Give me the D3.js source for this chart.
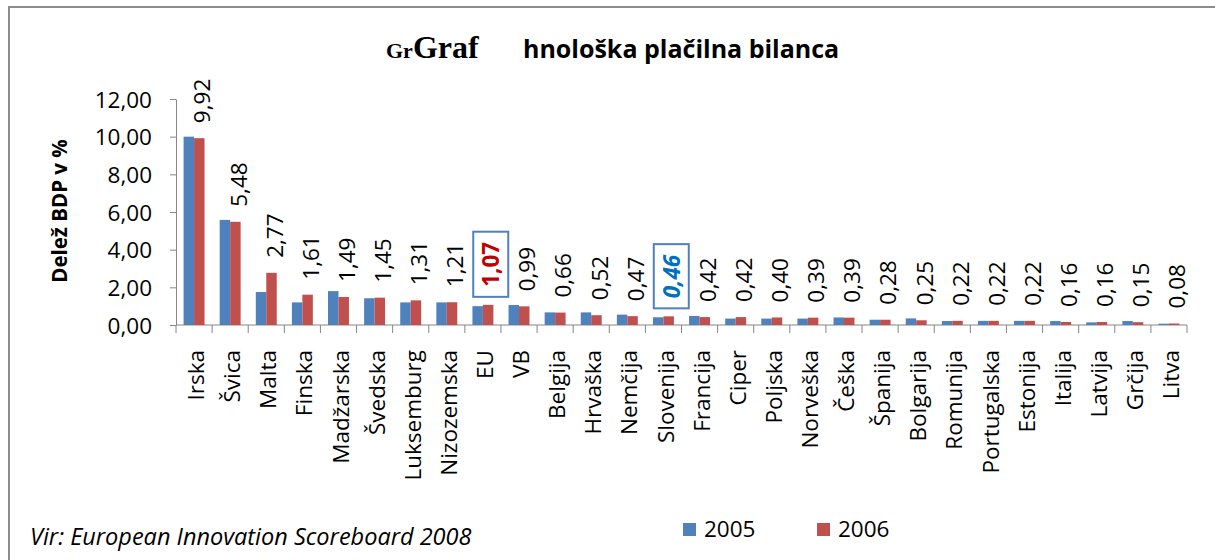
<!DOCTYPE html>
<html>
<head>
<meta charset="utf-8">
<script src="https://cdn.jsdelivr.net/npm/d3@7"></script>
<style>
	body { margin: 0; background: #fff; }
	text { font-family: "Open Sans", sans-serif; fill: #000; }
	.axis path, .axis line { stroke: #868686; }
	.axis text { font-size: 22.5px; fill: #000; }
</style>
</head>
<body>
<div id="chart"></div>
<script>

// Data (delež BDP v %).
const categories = ["Irska", "Švica", "Malta", "Finska", "Madžarska", "Švedska", "Luksemburg",
	"Nizozemska", "EU", "VB", "Belgija", "Hrvaška", "Nemčija", "Slovenija", "Francija", "Ciper",
	"Poljska", "Norveška", "Češka", "Španija", "Bolgarija", "Romunija", "Portugalska", "Estonija",
	"Italija", "Latvija", "Grčija", "Litva"];
const v2005 = [10.00, 5.58, 1.75, 1.20, 1.80, 1.42, 1.20, 1.20, 1.00, 1.06, 0.67, 0.67, 0.55, 0.41,
	0.48, 0.34, 0.34, 0.34, 0.40, 0.28, 0.35, 0.21, 0.22, 0.22, 0.21, 0.14, 0.21, 0.07];
const v2006 = [9.92, 5.48, 2.77, 1.61, 1.49, 1.45, 1.31, 1.21, 1.07, 0.99, 0.66, 0.52, 0.47, 0.46,
	0.42, 0.42, 0.40, 0.39, 0.39, 0.28, 0.25, 0.22, 0.22, 0.22, 0.16, 0.16, 0.15, 0.08];
const years = ["2005", "2006"];
const yTicks = [0, 2, 4, 6, 8, 10, 12];
const boxed = ["EU", "Slovenija"];

const colors = { "2005": "#4f81bd", "2006": "#c0504d" };

// Dimensions.
const W = 1215, H = 560;
let margin = { top: 99, right: 28, bottom: 235, left: 176 },
	width = W - margin.left - margin.right,
	height = H - margin.top - margin.bottom;

let svg = d3.select("#chart").append("svg")
	.attr("width", W)
	.attr("height", H);

// chart area border (only top & left visible in crop)
svg.append("rect")
	.attr("x", 9).attr("y", 7)
	.attr("width", W + 20).attr("height", H + 20)
	.attr("fill", "none")
	.attr("stroke", "#8c8c8c")
	.attr("stroke-width", 2);

let g = svg.append("g")
	.attr("transform", "translate(" + margin.left + "," + margin.top + ")");

// Scales
let x = d3.scaleBand()
	.domain(categories)
	.range([0, width])
	.paddingInner(0.42)
	.paddingOuter(0.21);
let x1 = d3.scaleBand()
	.domain(years)
	.range([0, x.bandwidth()]);
let y = d3.scaleLinear()
	.domain([0, 12])
	.range([height, 0]);

const fmt = d3.formatLocale({ decimal: ",", thousands: ".", grouping: [3], currency: ["", ""] }).format(".2f");

// y-axis
let yAxis = d3.axisLeft(y)
	.tickValues(yTicks)
	.tickFormat(fmt)
	.tickSize(6)
	.tickPadding(18)
	.tickSizeOuter(0);
g.append("g")
	.attr("class", "y axis")
	.call(yAxis)
	.call(a => a.selectAll("text").attr("dy", "0.36em"));

// x-axis: line plus ticks between categories
let xg = g.append("g").attr("class", "x axis")
	.attr("transform", "translate(0," + height + ")");
xg.append("line")
	.attr("x1", 0).attr("x2", width)
	.attr("stroke", "#868686");
xg.selectAll("line.tk")
	.data(d3.range(categories.length + 1))
	.join("line")
	.attr("class", "tk")
	.attr("x1", i => i * width / categories.length)
	.attr("x2", i => i * width / categories.length)
	.attr("y1", 0).attr("y2", 8)
	.attr("stroke", "#868686");
xg.selectAll("text.cat")
	.data(categories)
	.join("text")
	.attr("class", "cat")
	.attr("transform", d => "translate(" + (x(d) + x.bandwidth() / 2 + 2) + ",25) rotate(-90)")
	.attr("dy", "0.36em")
	.attr("text-anchor", "end")
	.text(d => d);

// Bars
let series = { "2005": v2005, "2006": v2006 };
years.forEach(yr => {
	g.append("g").selectAll("rect")
		.data(categories)
		.join("rect")
		.attr("x", d => x(d) + x1(yr))
		.attr("y", (d, i) => y(series[yr][i]))
		.attr("width", x1.bandwidth())
		.attr("height", (d, i) => height - y(series[yr][i]))
		.attr("fill", colors[yr]);
});

// Data labels (2006 values)
let labels = g.append("g").selectAll("text")
	.data(categories)
	.join("text")
	.attr("transform", (d, i) => "translate(" + (x(d) + x1("2006") + x1.bandwidth() / 2 + 3) + ","
		+ (y(v2006[i]) - (boxed.includes(d) ? 18 : 15)) + ") rotate(-90)")
	.attr("dy", "0.36em")
	.style("font-size", "22.5px")
	.text((d, i) => fmt(v2006[i]));

labels.filter(d => d == "EU")
	.style("font-weight", "bold")
	.style("fill", "#c00000");
labels.filter(d => d == "Slovenija")
	.style("font-weight", "bold")
	.style("font-style", "italic")
	.style("fill", "#0070c0");

// boxes round the highlighted labels
labels.filter(d => boxed.includes(d)).each(function(d, i) {
	let b = this.getBBox();
	let t = d3.select(this).attr("transform");
	d3.select(this.parentNode).insert("rect", "text")
		.attr("transform", t)
		.attr("x", b.x - 10).attr("y", b.y - 2)
		.attr("width", b.width + 20).attr("height", b.height + 4)
		.attr("fill", "#fff")
		.attr("stroke", "#4f81bd")
		.attr("stroke-width", 2);
});

// Axis title
svg.append("text")
	.attr("transform", "translate(60,211) rotate(-90)")
	.attr("dy", "0.36em")
	.attr("text-anchor", "middle")
	.style("font-size", "20.5px")
	.style("font-weight", "bold")
	.text("Delež BDP v %");

// Title (kept as printed)
let title = svg.append("text")
	.attr("y", 58)
	.style("font-weight", "bold");
title.append("tspan")
	.attr("x", 386)
	.style("font-family", "'Liberation Serif', serif")
	.style("font-size", "22px")
	.text("Gr");
title.append("tspan")
	.style("font-family", "'Liberation Serif', serif")
	.style("font-size", "32px")
	.text("Graf");
title.append("tspan")
	.attr("x", 523)
	.style("font-size", "25px")
	.text("hnološka plačilna bilanca");

// Source
svg.append("text")
	.attr("x", 30).attr("y", 545)
	.style("font-size", "23.5px")
	.style("font-style", "italic")
	.text("Vir: European Innovation Scoreboard 2008");

// Legend
const legX = [683, 817];
let legend = svg.append("g").selectAll("g")
	.data(years)
	.join("g")
	.attr("transform", (d, i) => "translate(" + legX[i] + ",523)");
legend.append("rect")
	.attr("width", 13).attr("height", 13)
	.attr("fill", d => colors[d]);
legend.append("text")
	.attr("x", 21).attr("y", 14)
	.style("font-size", "22.5px")
	.text(d => d);

</script>
</body>
</html>
